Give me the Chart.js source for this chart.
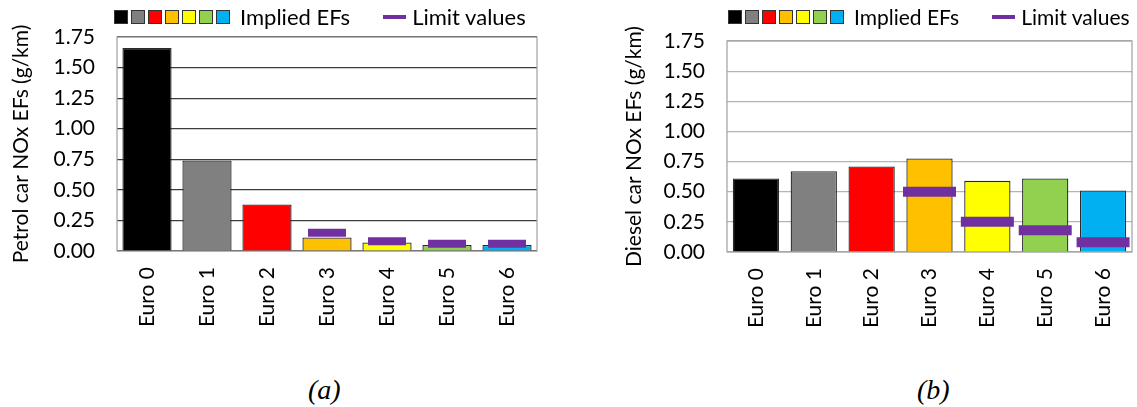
<!DOCTYPE html>
<html>
<head>
<meta charset="utf-8">
<script src="https://cdn.jsdelivr.net/npm/chart.js@4.4.1/dist/chart.umd.min.js"></script>
<style>
body{margin:0;background:#fff;width:1137px;height:407px;position:relative;overflow:hidden;font-family:Lato,sans-serif;}
.box{position:absolute;top:0;height:345px;}
.legend{position:absolute;top:3px;display:flex;align-items:center;line-height:28px;white-space:nowrap;color:#000;}
.sq{display:inline-block;width:12px;height:12px;border:1px solid #333;margin-right:3px;}
.ln{display:inline-block;width:23px;height:4px;background:#7030a0;margin-left:33px;margin-right:6px;}
.txt{margin-left:7px;}
.cap{position:absolute;top:374px;font:italic 28px "Liberation Serif",serif;color:#000;}
</style>
</head>
<body>
<div class="box" style="left:0;width:560px"><canvas id="petrol"></canvas></div>
<div class="box" style="left:560px;width:577px"><canvas id="diesel"></canvas></div>
<div class="legend" id="legA" style="left:114px;font-size:22px"></div>
<div class="legend" id="legB" style="left:728px;font-size:21px"></div>
<div class="cap" style="left:308px">(a)</div>
<div class="cap" style="left:917px">(b)</div>
<script>
// data
const categories=["Euro 0","Euro 1","Euro 2","Euro 3","Euro 4","Euro 5","Euro 6"];
const barColors=["#000000","#808080","#ff0000","#ffc000","#ffff00","#92d050","#00b0f0"];
const petrolEF=[1.66,0.74,0.38,0.11,0.07,0.05,0.05];
const petrolLimit=[null,null,null,0.15,0.08,0.06,0.06];
const dieselEF=[0.61,0.67,0.71,0.775,0.59,0.61,0.51];
const dieselLimit=[null,null,null,0.50,0.25,0.18,0.08];
const yTicks=[0,0.25,0.5,0.75,1,1.25,1.5,1.75];
const legendLabels=["Implied EFs","Limit values"];
const limitColor="#7030a0";

Chart.defaults.font.family="Lato, sans-serif";
Chart.defaults.color="#000";

// legends (html)
function buildLegend(id){
  const el=document.getElementById(id);
  barColors.forEach(c=>{
    const s=document.createElement("span");
    s.className="sq";s.style.background=c;
    el.appendChild(s);
  });
  const t1=document.createElement("span");t1.className="txt";t1.textContent=legendLabels[0];el.appendChild(t1);
  const l=document.createElement("span");l.className="ln";l.style.background=limitColor;el.appendChild(l);
  const t2=document.createElement("span");t2.textContent=legendLabels[1];el.appendChild(t2);
}
buildLegend("legA");
buildLegend("legB");

// grey box round the plot area
const frame={
  id:"frame",
  beforeDatasetsDraw(c,a,o){
    const {left,top,width,height}=c.chartArea;
    const ctx=c.ctx;
    ctx.save();
    ctx.strokeStyle=o.color;
    ctx.lineWidth=1.2;
    ctx.strokeRect(left,top,width,height);
    ctx.restore();
  }
};

function makeChart(id,ef,limit,cfg){
  new Chart(document.getElementById(id),{
    type:"bar",
    data:{
      labels:categories,
      datasets:[{
        type:"line",
        data:limit,
        showLine:false,
        clip:false,
        pointStyle:"line",
        pointRadius:cfg.markW/2,
        pointHoverRadius:cfg.markW/2,
        pointBorderWidth:cfg.markH,
        pointBorderColor:limitColor,
        borderColor:limitColor,
        order:0
      },{
        data:ef,
        backgroundColor:barColors,
        borderColor:"#2b2b2b",
        borderWidth:1.3,
        barPercentage:cfg.barPct,
        categoryPercentage:1,
        order:1
      }]
    },
    options:{
      responsive:true,
      maintainAspectRatio:false,
      animation:false,
      layout:{autoPadding:false,padding:{left:0,right:cfg.padR,top:cfg.padT,bottom:0}},
      plugins:{
        legend:{display:false},
        tooltip:{enabled:false},
        frame:{color:"#a0a0a0"}
      },
      scales:{
        x:{
          grid:{display:false,drawTicks:false},
          border:{display:false},
          ticks:{autoSkip:false,minRotation:90,maxRotation:90,padding:16,font:{size:21}},
          afterFit:s=>{s.height=cfg.xH;s.paddingLeft=0;s.paddingRight=0;}
        },
        y:{
          min:0,max:1.75,
          afterBuildTicks:s=>{s.ticks=yTicks.map(v=>({value:v}));},
          grid:{color:cfg.gridColor,lineWidth:1.2,drawTicks:false},
          border:{display:false},
          ticks:{padding:22,font:{size:21},callback:v=>v.toFixed(2)},
          title:{display:true,text:cfg.title,font:{size:21},padding:{top:cfg.titlePad,bottom:0}},
          afterFit:s=>{s.width=cfg.yW;}
        }
      }
    },
    plugins:[frame]
  });
}

makeChart("petrol",petrolEF,petrolLimit,{
  title:"Petrol car NOx EFs (g/km)",gridColor:"#3c3c3c",
  barPct:0.82,markW:38,markH:8,padR:23,padT:37,xH:94,yW:117,titlePad:9
});
makeChart("diesel",dieselEF,dieselLimit,{
  title:"Diesel car NOx EFs (g/km)",gridColor:"#b4b4b4",
  barPct:0.8,markW:53,markH:10,padR:5,padT:41,xH:93,yW:167,titlePad:62
});
</script>
</body>
</html>
